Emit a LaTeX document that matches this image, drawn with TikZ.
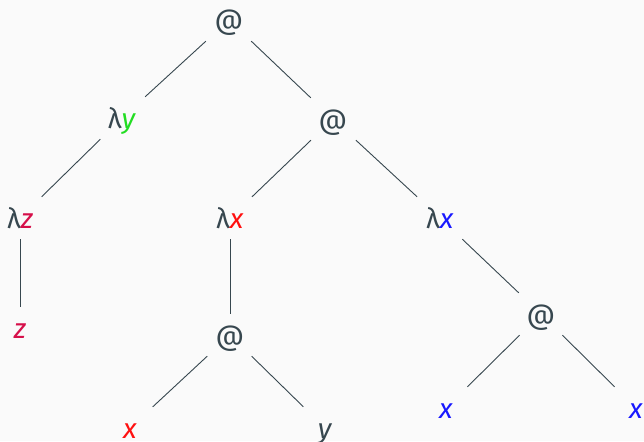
\documentclass[tikz,border=0pt]{standalone}
\usepackage{fontspec}
\setmainfont{Fira Sans}
\usepackage{xcolor}
\usepackage{tikz}
\definecolor{ink}{HTML}{37474F}
\definecolor{paper}{HTML}{FAFAFA}
\definecolor{vgreen}{RGB}{34,221,34}
\definecolor{vcrimson}{RGB}{214,16,74}
\definecolor{vred}{RGB}{255,16,16}
\definecolor{vblue}{RGB}{24,24,255}
\newcommand{\vname}[2]{\textcolor{#1}{\textit{#2}}}

\begin{document}
\begin{tikzpicture}[x=1pt,y=-1pt,
    term/.style={anchor=base,inner sep=0pt,minimum width=48pt,minimum height=42pt,
        text height=20pt,text depth=0pt,font=\fontsize{28}{30}\selectfont,text=ink},
    edge/.style={draw=ink,line width=0.9pt}
]
\useasboundingbox (0,0) rectangle (644,441);
\fill[paper] (0,0) rectangle (644,441);
\clip (0,0) rectangle (644,441);
% lambda term tree
\node[term] (root) at (229,30) {@};
\node[term] (lamy) at (122,128) {λ\vname{vgreen}{y}};
\node[term] (app2) at (333,129) {@};
\node[term] (lamz) at (20,228) {λ\vname{vcrimson}{z}};
\node[term] (lamxr) at (230,228) {λ\vname{vred}{x}};
\node[term] (lamxb) at (440,228) {λ\vname{vblue}{x}};
\node[term] (z) at (20,338) {\vname{vcrimson}{z}};
\node[term] (app3) at (230,345) {@};
\node[term] (app4) at (541,324) {@};
\node[term] (xr) at (130,438) {\vname{vred}{x}};
\node[term] (y) at (325,438) {\vname{ink}{y}};
\node[term] (xb1) at (446,418) {\vname{vblue}{x}};
\node[term] (xb2) at (636,418) {\vname{vblue}{x}};
\draw[edge] (root) -- (lamy);
\draw[edge] (root) -- (app2);
\draw[edge] (lamy) -- (lamz);
\draw[edge] (lamz) -- (z);
\draw[edge] (app2) -- (lamxr);
\draw[edge] (app2) -- (lamxb);
\draw[edge] (lamxr) -- (app3);
\draw[edge] (app3) -- (xr);
\draw[edge] (app3) -- (y);
\draw[edge] (lamxb) -- (app4);
\draw[edge] (app4) -- (xb1);
\draw[edge] (app4) -- (xb2);
\end{tikzpicture}
\end{document}
